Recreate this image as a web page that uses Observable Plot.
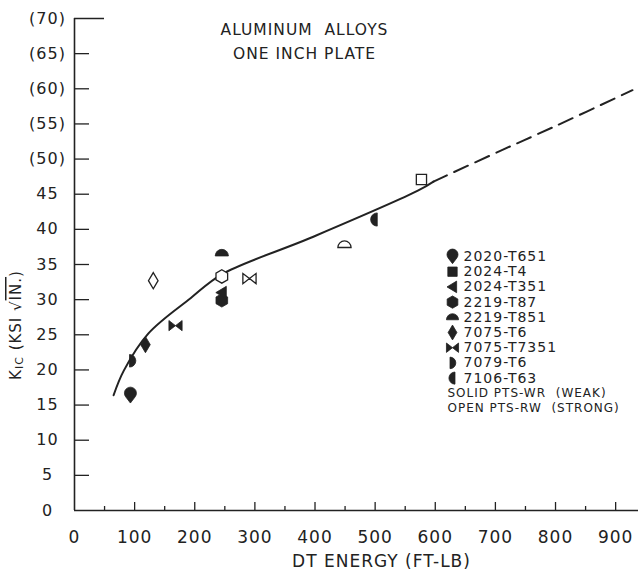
<!DOCTYPE html>
<html><head><meta charset="utf-8">
<script src="https://cdn.jsdelivr.net/npm/d3@7"></script>
<script src="https://cdn.jsdelivr.net/npm/@observablehq/plot@0.6"></script>
<style>body{margin:0;background:#fff}#chart{width:638px;height:571px}</style>
</head><body><div id="chart"></div>
<script>
// ---- data ----
const alloys = ["2020-T651","2024-T4","2024-T351","2219-T87","2219-T851","7075-T6","7075-T7351","7079-T6","7106-T63"];
const notes = ["SOLID PTS-WR  (WEAK)", "OPEN PTS-RW  (STRONG)"];
const pointAlloy  = ["2020-T651","7079-T6","7075-T6","7075-T7351","7075-T6","2219-T851","2219-T87","7075-T7351","2219-T87","2024-T351","2219-T851","7106-T63","2024-T4"];
const pointEnergy = [93, 96, 118, 168, 131, 245, 245, 291, 245, 245, 449, 499, 577];
const pointKic    = [16.4, 21.3, 23.6, 26.3, 32.7, 36.6, 33.3, 33.0, 29.9, 31.0, 37.8, 41.4, 47.1];
const pointOpen   = [false, false, false, false, true, false, true, true, false, false, true, false, true];
const curveEnergy = [65, 82, 123, 193, 245, 393, 571, 597];
const curveKic    = [16.4, 19.9, 25.2, 30.2, 33.6, 38.8, 45.5, 46.8];
const dashEnergy  = [597, 709, 795, 928];
const dashKic     = [46.8, 51.2, 54.5, 59.8];
const xTicks = [0,100,200,300,400,500,600,700,800,900];
const xMinorTicks = [50,150,250,350,450,550,650,750,850];
const yTicks = [0,5,10,15,20,25,30,35,40,45,50,55,60,65,70];
const yTickLabels = ["0","5","10","15","20","25","30","35","40","45","(50)","(55)","(60)","(65)","(70)"];
const title = ["ALUMINUM  ALLOYS", "ONE INCH PLATE"];
const xLabel = "DT ENERGY (FT-LB)";

// ---- build tables ----
const points = pointEnergy.map((e,i)=>({alloy: pointAlloy[i], energy: e, kic: pointKic[i], open: pointOpen[i]}));
const curve = curveEnergy.map((e,i)=>({energy: e, kic: curveKic[i]}));
const dash = dashEnergy.map((e,i)=>({energy: e, kic: dashKic[i]}));

const ink = "#222";
const sym = fn => ({draw(c, size){ const r = Math.sqrt(size/Math.PI); fn(c, r); }});
const symbols = {
  "2020-T651": sym((c,r)=>{ const cy=-0.35*r, d=1.65*r, t=Math.acos(r/d);
      c.moveTo(0, cy+d); c.lineTo(r*Math.cos(Math.PI/2+t), cy+r*Math.sin(Math.PI/2+t));
      c.arc(0, cy, r, Math.PI/2+t, Math.PI/2-t+2*Math.PI); c.closePath(); }),
  "2024-T4": sym((c,r)=>{ c.rect(-0.85*r,-0.85*r,1.7*r,1.7*r); }),
  "2024-T351": sym((c,r)=>{ c.moveTo(-1.0*r,0); c.lineTo(0.75*r,-1.05*r); c.lineTo(0.75*r,1.05*r); c.closePath(); }),
  "2219-T87": sym((c,r)=>{ for(let i=0;i<6;i++){ const a=-Math.PI/2+i*Math.PI/3; const x=1.12*r*Math.cos(a), y=1.12*r*Math.sin(a); i?c.lineTo(x,y):c.moveTo(x,y);} c.closePath(); }),
  "2219-T851": sym((c,r)=>{ c.moveTo(-1.1*r,0.45*r); c.arc(0,0.45*r,1.1*r,Math.PI,2*Math.PI); c.closePath(); }),
  "7075-T6": sym((c,r)=>{ c.moveTo(0,-1.35*r); c.lineTo(0.8*r,0); c.lineTo(0,1.35*r); c.lineTo(-0.8*r,0); c.closePath(); }),
  "7075-T7351": sym((c,r)=>{ c.moveTo(-1.1*r,-0.85*r); c.lineTo(0,0); c.lineTo(-1.1*r,0.85*r); c.closePath();
      c.moveTo(1.1*r,-0.85*r); c.lineTo(0,0); c.lineTo(1.1*r,0.85*r); c.closePath(); }),
  "7079-T6": sym((c,r)=>{ c.moveTo(-0.45*r,-1.05*r); c.arc(-0.45*r,0,1.05*r,-Math.PI/2,Math.PI/2); c.closePath(); }),
  "7106-T63": sym((c,r)=>{ c.moveTo(0.45*r,-1.1*r); c.arc(0.45*r,0,1.1*r,-Math.PI/2,Math.PI/2,true); c.closePath(); })
};

const font = "DejaVu Sans, sans-serif";
const pointMarks = points.map(p => Plot.dot([p], {
  x: "energy", y: "kic", r: 6, symbol: symbols[p.alloy],
  fill: p.open ? "white" : ink, stroke: ink, strokeWidth: p.open ? 1.3 : 0.8
}));

const left = 74;
const rowStep = 15.2, legendTop = 256 - 18, legendMarkX = 452 - left, legendTextX = 463 - left;
const legendMarks = alloys.flatMap((a,i) => [
  Plot.dot([a], {frameAnchor: "top-left", dx: legendMarkX, dy: legendTop + i*rowStep, r: 5.5, symbol: symbols[a], fill: ink, stroke: ink, strokeWidth: 0.8}),
  Plot.text([a], {frameAnchor: "top-left", dx: legendTextX, dy: legendTop + i*rowStep, text: d=>d, textAnchor: "start", lineAnchor: "middle", fontSize: 14, fill: ink})
]);
const noteMarks = notes.map((n,i) => Plot.text([n], {ariaLabel: "notes", frameAnchor: "top-left", dx: 447-left, dy: legendTop + (alloys.length+i)*rowStep, text: d=>d, textAnchor: "start", lineAnchor: "middle", fontSize: 12, fill: ink}));

const chart = Plot.plot({
  width: 638, height: 571,
  marginLeft: left, marginRight: 0, marginTop: 18, marginBottom: 61,
  style: {fontFamily: font, background: "white", color: ink, letterSpacing: "1px"},
  x: {domain: [0, 938], label: null},
  y: {domain: [0, 70], label: null},
  marks: [
    Plot.ruleX([0], {stroke: ink, strokeWidth: 1.6}),
    Plot.ruleY([0], {stroke: ink, strokeWidth: 1.6}),
    Plot.axisY(yTicks, {tickSize: 0, tickPadding: 27, textAnchor: "middle", fontSize: 16, fill: ink, label: null,
      tickFormat: d => yTickLabels[yTicks.indexOf(d)]}),
    Plot.axisY(yTicks.filter(d => d > 0 && d < 70), {tickSize: -15, stroke: ink, strokeWidth: 1.3, tickFormat: () => "", label: null}),
    Plot.axisY([70], {tickSize: -30, stroke: ink, strokeWidth: 1.5, tickFormat: () => "", label: null}),
    Plot.axisX(xTicks, {ariaLabel: "xticks", tickSize: 0, tickPadding: 20, fontSize: 17, fill: ink, label: null}),
    Plot.axisX(xTicks.filter(d => d > 0), {tickSize: -8, stroke: ink, strokeWidth: 1.3, tickFormat: () => "", label: null}),
    Plot.axisX(xMinorTicks, {tickSize: -4, stroke: ink, strokeWidth: 1.3, tickFormat: () => "", label: null}),
    Plot.line(curve, {x: "energy", y: "kic", curve: "catmull-rom", stroke: ink, strokeWidth: 2}),
    Plot.line(dash, {x: "energy", y: "kic", curve: "catmull-rom", stroke: ink, strokeWidth: 2, strokeDasharray: "15,8"}),
    ...pointMarks,
    Plot.text([title.join("\n")], {ariaLabel: "title", frameAnchor: "top", dx: -52, dy: 21, text: d=>d, lineAnchor: "middle", lineHeight: 1.5, fontSize: 15.5, fill: ink}),
    ...legendMarks,
    ...noteMarks,
    Plot.text([xLabel], {ariaLabel: "xlabel", frameAnchor: "bottom", dx: 25, dy: 51, text: d=>d, lineAnchor: "middle", fontSize: 17, fill: ink})
  ]
});
document.getElementById("chart").appendChild(chart);

const svg = d3.select(chart.tagName.toLowerCase() === "svg" ? chart : chart.querySelector("svg"));
svg.selectAll('g[aria-label="notes"]').style("letter-spacing", "2.6px");
svg.selectAll('g[aria-label="title"]').style("letter-spacing", "1.8px");
svg.selectAll('g[aria-label="xlabel"]').style("letter-spacing", "1.8px");
svg.selectAll('g[aria-label="xticks"]').style("letter-spacing", "1.3px");

// y-axis title with subscript and radical
const yl = svg.append("text")
  .attr("transform", "translate(16,325) rotate(-90)")
  .attr("text-anchor", "middle").attr("dominant-baseline", "middle")
  .attr("font-size", 15).attr("fill", ink).attr("font-family", font);
yl.append("tspan").text("K");
yl.append("tspan").attr("font-size", 11).attr("dy", 4).text("IC");
yl.append("tspan").attr("dy", -4).text(" (KSI \u221A");
yl.append("tspan").attr("text-decoration", "overline").text("IN.");
yl.append("tspan").text(")");
</script>
</body></html>
